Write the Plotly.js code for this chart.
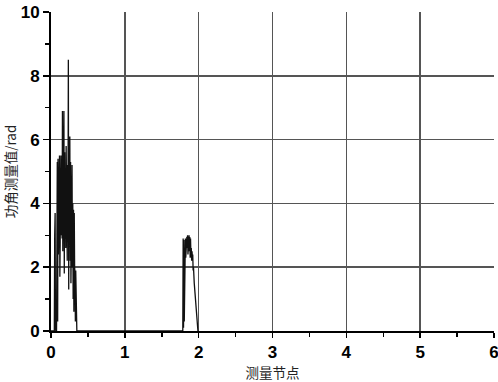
<!DOCTYPE html>
<html>
<head>
<meta charset="utf-8">
<script src="https://cdn.plot.ly/plotly-3.0.1.min.js"></script>
<style>html,body{margin:0;padding:0;background:#fff}#chart{width:498px;height:382px}</style>
</head>
<body>
<div id="chart"></div>
<script>
const nodeX = [0, 0.045, 0.05, 0.053, 0.056, 0.06, 0.065, 0.075, 0.085, 0.09, 0.095, 0.1, 0.105, 0.11, 0.115, 0.12, 0.125, 0.13, 0.135, 0.14, 0.145, 0.15, 0.155, 0.16, 0.165, 0.17, 0.175, 0.18, 0.185, 0.19, 0.195, 0.2, 0.205, 0.21, 0.215, 0.22, 0.225, 0.23, 0.235, 0.24, 0.245, 0.25, 0.255, 0.26, 0.265, 0.27, 0.275, 0.28, 0.285, 0.29, 0.295, 0.3, 0.305, 0.31, 0.315, 0.32, 0.325, 0.33, 0.335, 0.34, 0.345, 0.35, 0.355, 0.36,
  1.78, 1.785, 1.79, 1.795, 1.8, 1.805, 1.81, 1.815, 1.82, 1.825, 1.83, 1.835, 1.84, 1.845, 1.85, 1.855, 1.86, 1.865, 1.87, 1.875, 1.88, 1.885, 1.89, 1.895, 1.9, 1.905, 1.91, 1.915, 1.92, 1.925, 1.93, 1.94, 1.95, 1.96, 1.97, 1.98, 1.99, 2.0];
const angleY = [0, 0, 3.0, 0.2, 3.7, 0.1, 0, 0, 5.3, 0.3, 5.4, 2.4, 5.4, 2.8, 5.5, 1.7, 5.4, 2.6, 5.5, 3.0, 5.2, 2.9, 6.9, 2.5, 5.0, 3.2, 6.9, 1.8, 5.6, 3.4, 4.8, 2.6, 5.8, 3.0, 4.5, 2.2, 5.2, 3.5, 8.5, 1.3, 6.1, 3.0, 6.1, 2.2, 5.3, 1.5, 4.9, 2.8, 5.2, 2.0, 4.0, 1.0, 3.8, 0.6, 3.7, 2.0, 1.8, 0.3, 1.9, 0, 0, 0, 0, 0,
  0, 0, 2.9, 0.1, 2.85, 0.3, 2.8, 2.0, 2.9, 2.3, 2.8, 2.5, 2.95, 2.6, 3.0, 2.4, 2.9, 2.7, 3.0, 2.5, 2.95, 2.3, 2.9, 2.4, 2.6, 2.2, 2.5, 2.3, 2.4, 1.9, 2.0, 1.5, 1.2, 0.9, 0.5, 0.2, 0, 0];
const xTicks = [0, 1, 2, 3, 4, 5, 6];
const yTicks = [0, 2, 4, 6, 8, 10];

const tickFont = {family: 'Liberation Sans, Arial, sans-serif', size: 17, color: '#000', weight: 'bold'};
const titleFont = {family: 'Noto Sans CJK SC, sans-serif', size: 13.5, color: '#222'};

Plotly.newPlot('chart', [{
  x: nodeX, y: angleY, type: 'scatter', mode: 'lines',
  line: {color: '#111', width: 1.3}, hoverinfo: 'none'
}], {
  width: 498, height: 382,
  margin: {l: 51, r: 4, t: 12, b: 51},
  paper_bgcolor: '#fff', plot_bgcolor: '#fff',
  showlegend: false,
  xaxis: {
    range: [0, 6], tickvals: xTicks, ticktext: xTicks.map(String),
    showgrid: true, gridcolor: '#555', gridwidth: 1.6,
    showline: true, linecolor: '#000', linewidth: 2,
    ticks: 'outside', ticklen: 5, tickwidth: 1.5, tickcolor: '#000',
    minor: {dtick: 0.5, ticks: 'outside', ticklen: 4, tickcolor: '#000', showgrid: false},
    zeroline: false, tickfont: tickFont, ticklabeloverflow: 'allow',
    title: {text: '测量节点', font: titleFont, standoff: 8}
  },
  yaxis: {
    range: [0, 10], tickvals: yTicks, ticktext: yTicks.map(String),
    showgrid: true, gridcolor: '#555', gridwidth: 1.6,
    showline: true, linecolor: '#000', linewidth: 2,
    ticks: 'outside', ticklen: 6, tickwidth: 1.5, tickcolor: '#000',
    minor: {dtick: 1, ticks: 'outside', ticklen: 4, tickcolor: '#000', showgrid: false},
    zeroline: false, tickfont: tickFont, ticklabeloverflow: 'allow',
    title: {text: '功角测量值/rad', font: titleFont, standoff: 2}
  }
}, {staticPlot: true});
</script>
</body>
</html>
